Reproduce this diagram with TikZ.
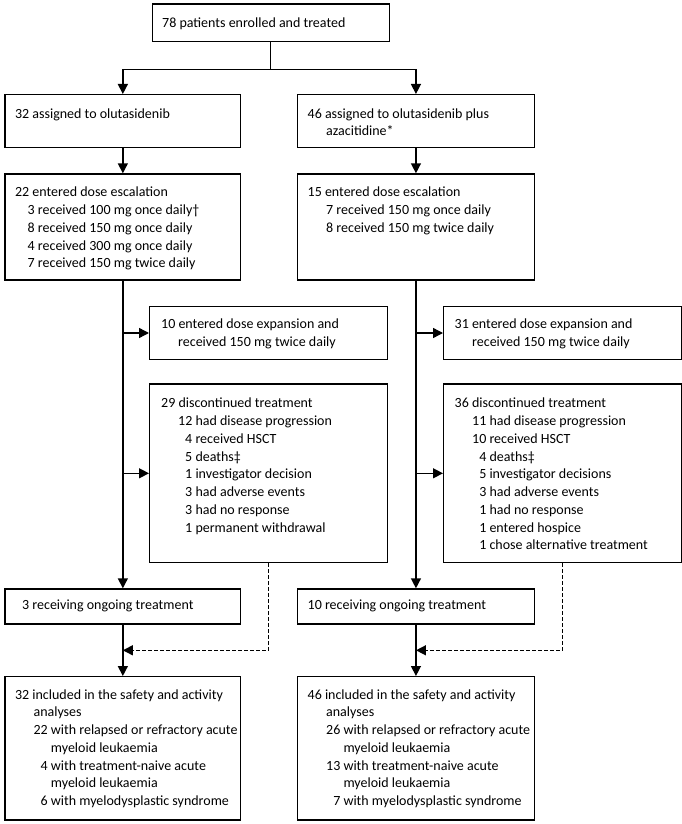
\documentclass[tikz,border=0pt]{standalone}
\usepackage{fontspec}
\setmainfont{Carlito}
\usetikzlibrary{arrows.meta}
\newcommand\rowt[2]{\par\noindent\hspace*{\dimexpr10pt+#1\relax}\firstgap\let\firstgap\relax#2}
\newcommand\boxc[4]{\parbox[c][#2pt][t]{#1pt}{\def\firstgap{\rule{0pt}{#3pt}}#4}}
\begin{document}
\begin{tikzpicture}[x=1pt,y=-1pt,
  bx/.style={draw,line width=1.3pt,inner sep=0pt,anchor=north west,
    font=\fontsize{14pt}{17.75pt}\selectfont},
  conn/.style={line width=1.4pt},
  arr/.style={conn,-{Triangle[length=10pt,width=10pt]}},
  dsh/.style={conn,dash pattern=on 3.5pt off 2.5pt,-{Triangle[length=10pt,width=10pt]}}]
\useasboundingbox (0,0) rectangle (682,824);
\def\I{18.5pt}
% boxes
\node[bx] (top) at (151.5,3.3) {\boxc{237}{37.4}{23.2}{\rowt{0pt}{78 patients enrolled and treated}}};
\node[bx] (L2) at (4.4,94) {\boxc{235.6}{53}{23.5}{\rowt{0pt}{32 assigned to olutasidenib}}};
\node[bx] (R2) at (297,94) {\boxc{236.6}{53}{23.5}{\rowt{0pt}{46 assigned to olutasidenib plus}\rowt{\I}{azacitidine*}}};
\node[bx] (L3) at (4.4,173.3) {\boxc{235.6}{106}{23}{%
  \rowt{0pt}{22 entered dose escalation}%
  \rowt{12.6pt}{3 received 100 mg once daily†}%
  \rowt{12.6pt}{8 received 150 mg once daily}%
  \rowt{12.6pt}{4 received 300 mg once daily}%
  \rowt{12.6pt}{7 received 150 mg twice daily}}};
\node[bx] (R3) at (297,173.3) {\boxc{236.6}{106}{23}{%
  \rowt{0pt}{15 entered dose escalation}%
  \rowt{\I}{7 received 150 mg once daily}%
  \rowt{\I}{8 received 150 mg twice daily}}};
\node[bx] (LE) at (149,305.7) {\boxc{238}{53.3}{22}{%
  \rowt{1.5pt}{10 entered dose expansion and}%
  \rowt{\I}{received 150 mg twice daily}}};
\node[bx] (RE) at (443,305.7) {\boxc{238}{53.3}{22}{%
  \rowt{1pt}{31 entered dose expansion and}%
  \rowt{\I}{received 150 mg twice daily}}};
\node[bx] (LD) at (149,383.3) {\boxc{238}{178.7}{24}{%
  \rowt{1.5pt}{29 discontinued treatment}%
  \rowt{\I}{12 had disease progression}%
  \rowt{\I}{\phantom{1}4 received HSCT}%
  \rowt{\I}{\phantom{1}5 deaths‡}%
  \rowt{\I}{\phantom{1}1 investigator decision}%
  \rowt{\I}{\phantom{1}3 had adverse events}%
  \rowt{\I}{\phantom{1}3 had no response}%
  \rowt{\I}{\phantom{1}1 permanent withdrawal}}};
\node[bx] (RD) at (443,383.3) {\boxc{238}{178.7}{24}{%
  \rowt{1pt}{36 discontinued treatment}%
  \rowt{\I}{11 had disease progression}%
  \rowt{\I}{10 received HSCT}%
  \rowt{\I}{\phantom{1}4 deaths‡}%
  \rowt{\I}{\phantom{1}5 investigator decisions}%
  \rowt{\I}{\phantom{1}3 had adverse events}%
  \rowt{\I}{\phantom{1}1 had no response}%
  \rowt{\I}{\phantom{1}1 entered hospice}%
  \rowt{\I}{\phantom{1}1 chose alternative treatment}}};
\node[bx] (L4) at (4.4,588.3) {\boxc{235.6}{35}{21}{\rowt{0pt}{\phantom{1}3 receiving ongoing treatment}}};
\node[bx] (R4) at (297,588.3) {\boxc{236.6}{35}{21}{\rowt{0pt}{10 receiving ongoing treatment}}};
\node[bx] (L5) at (4.4,676) {\boxc{235.6}{143.3}{22.5}{%
  \rowt{0pt}{32 included in the safety and activity}%
  \rowt{\I}{analyses}%
  \rowt{\I}{22 with relapsed or refractory acute}%
  \rowt{\I}{\phantom{22 }myeloid leukaemia}%
  \rowt{\I}{\phantom{2}4 with treatment-naive acute}%
  \rowt{\I}{\phantom{22 }myeloid leukaemia}%
  \rowt{\I}{\phantom{2}6 with myelodysplastic syndrome}}};
\node[bx] (R5) at (297,676) {\boxc{236.6}{143.3}{22.5}{%
  \rowt{0pt}{46 included in the safety and activity}%
  \rowt{\I}{analyses}%
  \rowt{\I}{26 with relapsed or refractory acute}%
  \rowt{\I}{\phantom{26 }myeloid leukaemia}%
  \rowt{\I}{13 with treatment-naive acute}%
  \rowt{\I}{\phantom{13 }myeloid leukaemia}%
  \rowt{\I}{\phantom{1}7 with myelodysplastic syndrome}}};
% connectors
\draw[conn] (top.south) -- ++(0,27.3) coordinate (split);
\draw[arr] (split) -| (L2.north);
\draw[arr] (split) -| (R2.north);
\draw[arr] (L2.south) -- (L3.north);
\draw[arr] (R2.south) -- (R3.north);
\draw[arr] (L3.south) -- (L4.north);
\draw[arr] (R3.south) -- (R4.north);
\draw[arr] (L3.south |- LE.west) -- (LE.west);
\draw[arr] (L3.south |- LD.west) -- (LD.west);
\draw[arr] (R3.south |- RE.west) -- (RE.west);
\draw[arr] (R3.south |- RD.west) -- (RD.west);
\draw[arr] (L4.south) -- coordinate[pos=0.5] (jl) (L5.north);
\draw[arr] (R4.south) -- coordinate[pos=0.5] (jr) (R5.north);
\draw[dsh] (LD.south) |- (jl);
\draw[dsh] (RD.south) |- (jr);
\end{tikzpicture}
\end{document}
